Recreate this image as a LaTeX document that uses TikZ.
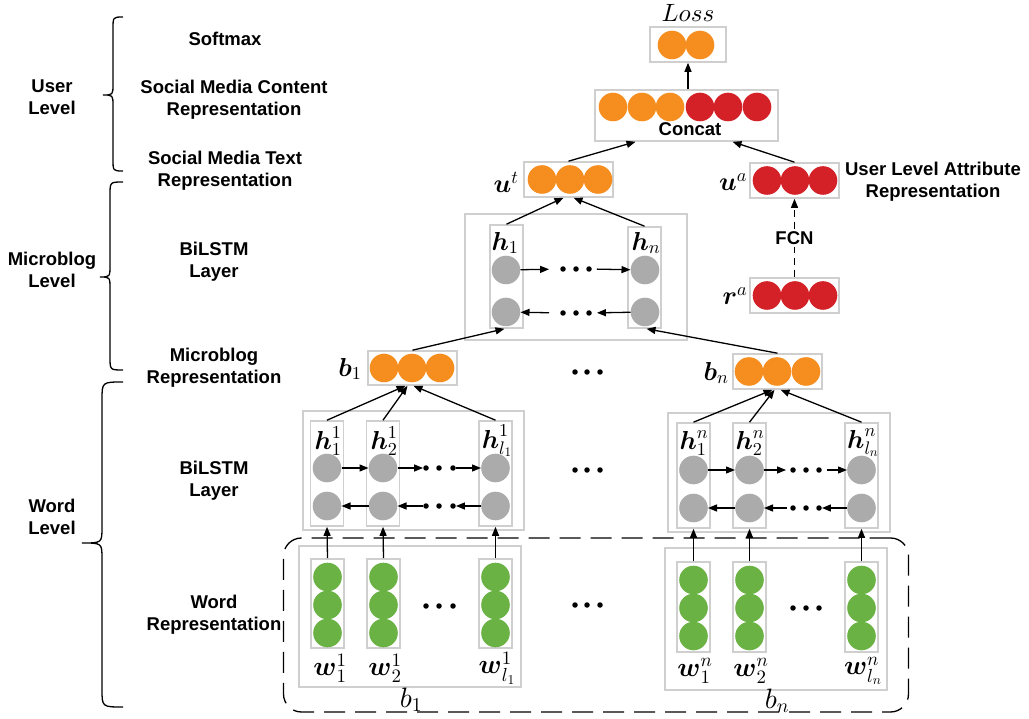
\documentclass[tikz,border=0pt]{standalone}
\usepackage{amsmath}
\usepackage[no-math]{fontspec}
\setmainfont{Liberation Sans}
\usetikzlibrary{arrows.meta}

% scalable Computer Modern math shapes for the large symbol labels
\DeclareFontShape{OML}{cmm}{m}{it}{<->cmmi10}{\skewchar\font=127}
\DeclareFontShape{OML}{cmm}{b}{it}{<->cmmib10}{\skewchar\font=127}
\DeclareFontShape{OT1}{cmr}{m}{n}{<->cmr10}{}
\DeclareFontShape{OT1}{cmr}{bx}{n}{<->cmbx10}{}

\definecolor{cOrange}{HTML}{F68E1F}
\definecolor{cRed}{HTML}{D42027}
\definecolor{cGreen}{HTML}{6BB244}
\definecolor{cGray}{HTML}{ABABAB}
\definecolor{cFrame}{HTML}{CFCFCF}

\newcommand{\lblfont}{\fontsize{18.5}{22}\selectfont\bfseries}
\newcommand{\symfont}{\fontsize{26}{30}\selectfont}
\newcommand{\wsymfont}{\fontsize{27}{31}\selectfont}
\newcommand{\bigsym}{\fontsize{25}{29}\selectfont}
\newcommand{\grpsym}{\fontsize{28}{32}\selectfont}
\newcommand{\bv}[1]{\boldsymbol{#1}}

\begin{document}
\begin{tikzpicture}[x=1pt,y=-1pt,
  frame/.style={draw=cFrame, line width=1.6pt, inner sep=0pt},
  unit/.style={circle, inner sep=0pt, minimum size=28.6pt},
  dotn/.style={circle, fill=black, inner sep=0pt, minimum size=5.5pt},
  lbl/.style={font=\lblfont, align=center, inner sep=0pt},
  sym/.style={font=\symfont, inner sep=0pt},
  wsym/.style={font=\wsymfont, inner sep=0pt},
  arr/.style={-{Triangle[length=9pt,width=7pt]}, line width=1.3pt},
  bracepath/.style={line width=1.3pt},
]
\useasboundingbox (0,0) rectangle (1029,719);

% ---------------- left-hand level braces and captions ----------------
\draw[bracepath] (123,17) .. controls (113,17) .. (113,29) -- (113,84)
  .. controls (113,95) .. (103,95) .. controls (113,95) .. (113,106)
  -- (113,159) .. controls (113,171) .. (123,171);
\draw[bracepath] (123,182) .. controls (110,182) .. (110,195) -- (110,265)
  .. controls (110,277) .. (100,277) .. controls (110,277) .. (110,289)
  -- (110,357) .. controls (110,370) .. (123,370);
\draw[bracepath] (123,382) .. controls (102,382) .. (102,400) -- (102,527)
  .. controls (102,543) .. (82,543) .. controls (102,543) .. (102,559)
  -- (102,689) .. controls (102,707) .. (123,707);

\node[lbl] (lvUser)  at (52,97)  {User\\Level};
\node[lbl] (lvMicro) at (52,270) {Microblog\\Level};
\node[lbl] (lvWord)  at (52,517) {Word\\Level};

\node[lbl] (tSoftmax) at (225,39)  {Softmax};
\node[lbl] (tSMC)     at (234,100) {Social Media Content\\Representation};
\node[lbl] (tSMT)     at (225,171) {Social Media Text\\Representation};
\node[lbl] (tBiM)     at (214,262) {BiLSTM\\Layer};
\node[lbl] (tMR)      at (214,368) {Microblog\\Representation};
\node[lbl] (tBiW)     at (214,481) {BiLSTM\\Layer};
\node[lbl] (tWR)      at (214,615) {Word\\Representation};

% ---------------- user level ----------------
\node[font=\bigsym, inner sep=0pt] (tLoss) at (688,13) {$Loss$};
\node[frame, minimum width=76pt, minimum height=35pt] (loss) at (688,44.5) {};
\foreach \i/\x in {1/672,2/700}
  \node[unit, fill=cOrange] (loss\i) at (\x,45) {};

\node[frame, minimum width=183pt, minimum height=51pt] (concat) at (686.5,115.5) {};
\foreach \i/\x in {1/613,2/642,3/670}
  \node[unit, fill=cOrange] (cc\i) at (\x,107) {};
\foreach \i/\x in {4/700,5/728,6/757}
  \node[unit, fill=cRed] (cc\i) at (\x,107) {};
\node[lbl] (tConcat) at (690,129) {Concat};

\node[frame, minimum width=89pt, minimum height=35pt] (ut) at (568.5,179.5) {};
\foreach \i/\x in {1/542,2/570,3/598}
  \node[unit, fill=cOrange] (ut\i) at (\x,179.5) {};
\node[sym] (tut) at (506,182) {$\bv{u}^{t}$};

\node[frame, minimum width=89pt, minimum height=35pt] (ua) at (794.5,180.5) {};
\foreach \i/\x in {1/767,2/795,3/823}
  \node[unit, fill=cRed] (ua\i) at (\x,180.5) {};
\node[sym] (tua) at (733,182) {$\bv{u}^{a}$};
\node[lbl] (tULA) at (933,182) {User Level Attribute\\Representation};

\node[frame, minimum width=89pt, minimum height=35pt] (ra) at (794.5,295.5) {};
\foreach \i/\x in {1/767,2/795,3/823}
  \node[unit, fill=cRed] (ra\i) at (\x,295.5) {};
\node[sym] (tra) at (735,296) {$\bv{r}^{a}$};

\draw[arr] (concat.north -| loss) -- (loss.south);
\draw[arr] (ut.north) -- ([xshift=-51pt]concat.south);
\draw[arr] (ua.north) -- ([xshift=46pt]concat.south);
\draw[arr, dashed, dash pattern=on 7pt off 5pt] (ra.north) -- node[lbl, fill=white, inner sep=2pt] (tFCN) {FCN} (ua.south);

% ---------------- microblog level ----------------
\node[frame, minimum width=222pt, minimum height=126pt] (mBi) at (576,277) {};
\node[frame, minimum width=33pt, minimum height=103pt] (mc1) at (506.5,276.5) {};
\node[frame, minimum width=33pt, minimum height=101pt] (mcn) at (644.5,277.5) {};
\node[unit, fill=cGray] (mf1) at (506,270) {};
\node[unit, fill=cGray] (mb1) at (506,312) {};
\node[unit, fill=cGray] (mfn) at (645,270) {};
\node[unit, fill=cGray] (mbn) at (645,312) {};
\node[sym] (th1) at (505,243) {$\bv{h}_{1}$};
\node[sym] (thn) at (646,243) {$\bv{h}_{n}$};
\foreach \i/\x in {1/563,2/576,3/589} {
  \node[dotn] (mfd\i) at (\x,269) {};
  \node[dotn] (mbd\i) at (\x,313) {};
}
\draw[arr, shorten >=11pt] (mf1) -- (mfd1);
\draw[arr, shorten <=5pt] (mfd3) -- (mfn);
\draw[arr, shorten >=5pt] (mbn) -- (mbd3);
\draw[arr, shorten <=11pt] (mbd1) -- (mb1);

\draw[arr] (mc1.north) -- ([xshift=-5pt]ut.south);
\draw[arr] (mcn.north) -- ([xshift=5pt]ut.south);

\node[frame, minimum width=89pt, minimum height=34pt] (b1) at (412.5,368) {};
\foreach \i/\x in {1/384,2/412,3/440}
  \node[unit, fill=cOrange] (b1u\i) at (\x,368) {};
\node[sym] (tb1) at (350,369) {$\bv{b}_{1}$};

\node[frame, minimum width=89pt, minimum height=35pt] (bn) at (777.5,371.5) {};
\foreach \i/\x in {1/749,2/777,3/806}
  \node[unit, fill=cOrange] (bnu\i) at (\x,371.5) {};
\node[sym] (tbn) at (716,373) {$\bv{b}_{n}$};

\foreach \i/\x in {1/575,2/587,3/600}
  \node[dotn] (bdot\i) at (\x,372) {};

\draw[arr] (b1.north) -- ([xshift=-2pt]mc1.south);
\draw[arr] (bn.north) -- ([xshift=2pt]mcn.south);

% ---------------- word level: BiLSTM ----------------
% group 1
\node[frame, minimum width=221pt, minimum height=119pt] (wBi1) at (413.5,470.5) {};
\foreach \i/\x in {1/327,2/383,3/495.5} {
  \node[frame, minimum width=33pt, minimum height=105pt] (hc1\i) at (\x,473.5) {};
  \node[unit, fill=cGray] (hf1\i) at (\x,468) {};
  \node[unit, fill=cGray] (hb1\i) at (\x,506) {};
}
\node[sym] (th11) at (328,441) {$\bv{h}^{1}_{1}$};
\node[sym] (th12) at (384,441) {$\bv{h}^{1}_{2}$};
\node[sym] (th13) at (497,441) {$\bv{h}^{1}_{l_1}$};
\foreach \i/\x in {1/426,2/439,3/453} {
  \node[dotn] (f1d\i) at (\x,468) {};
  \node[dotn] (b1d\i) at (\x,506) {};
}
\draw[arr] (hf11) -- (hf12);
\draw[arr] (hf12) -- (f1d1);
\draw[arr] (f1d3) -- (hf13);
\draw[arr] (hb13) -- (b1d3);
\draw[arr] (b1d1) -- (hb12);
\draw[arr] (hb12) -- (hb11);

\draw[arr] (hc11.north) -- ([xshift=-7pt]b1.south);
\draw[arr] (hc12.north) -- ([xshift=-5pt]b1.south);
\draw[arr] (hc13.north) -- ([xshift=1pt]b1.south);

% group n
\node[frame, minimum width=222pt, minimum height=119pt] (wBin) at (779,472.5) {};
\foreach \i/\x in {1/693.5,2/749.5,3/861.5} {
  \node[frame, minimum width=33pt, minimum height=105pt] (hcn\i) at (\x,475.5) {};
  \node[unit, fill=cGray] (hfn\i) at (\x,470) {};
  \node[unit, fill=cGray] (hbn\i) at (\x,508) {};
}
\node[sym] (thn1) at (694,443) {$\bv{h}^{n}_{1}$};
\node[sym] (thn2) at (750,443) {$\bv{h}^{n}_{2}$};
\node[sym] (thn3) at (863,443) {$\bv{h}^{n}_{l_n}$};
\foreach \i/\x in {1/793,2/806,3/819} {
  \node[dotn] (fnd\i) at (\x,470) {};
  \node[dotn] (bnd\i) at (\x,508) {};
}
\draw[arr] (hfn1) -- (hfn2);
\draw[arr, shorten >=4pt] (hfn2) -- (fnd1);
\draw[arr, shorten <=5pt] (fnd3) -- (hfn3);
\draw[arr] (hbn3) -- (bnd3);
\draw[arr, shorten <=3pt] (bnd1) -- (hbn2);
\draw[arr] (hbn2) -- (hbn1);

\draw[arr] (hcn1.north) -- ([xshift=-5pt]bn.south);
\draw[arr] (hcn2.north) -- ([xshift=-3pt]bn.south);
\draw[arr] (hcn3.north) -- ([xshift=3pt]bn.south);

\foreach \i/\x in {1/575,2/587,3/600}
  \node[dotn] (hdot\i) at (\x,470) {};

% ---------------- word level: embeddings ----------------
\node[draw, line width=1.3pt, dash pattern=on 21pt off 10pt, rounded corners=18pt,
      minimum width=625pt, minimum height=174pt, inner sep=0pt] (wordRep) at (596,625) {};

\node[frame, minimum width=222pt, minimum height=141pt] (wr1) at (410,616.5) {};
\foreach \i/\x in {1/327.5,2/383.5,3/495.5} {
  \node[frame, minimum width=33pt, minimum height=89pt] (wc1\i) at (\x,603.5) {};
  \foreach \j/\y in {1/577,2/605,3/633}
    \node[unit, fill=cGreen] (w1\i\j) at (\x,\y) {};
}
\node[wsym] (tw11) at (330,668) {$\bv{w}^{1}_{1}$};
\node[wsym] (tw12) at (385,668) {$\bv{w}^{1}_{2}$};
\node[wsym] (tw13) at (497,668) {$\bv{w}^{1}_{l_1}$};
\foreach \i/\x in {1/426,2/439,3/453}
  \node[dotn] (wd1\i) at (\x,606) {};
\node[font=\grpsym, inner sep=0pt] (tb1w) at (411,700) {$b_1$};

\node[frame, minimum width=222pt, minimum height=142pt] (wrn) at (776,619) {};
\foreach \i/\x in {1/693.5,2/749.5,3/861.5} {
  \node[frame, minimum width=33pt, minimum height=90pt] (wcn\i) at (\x,607) {};
  \foreach \j/\y in {1/580,2/608,3/636}
    \node[unit, fill=cGreen] (wn\i\j) at (\x,\y) {};
}
\node[wsym] (twn1) at (695,671) {$\bv{w}^{n}_{1}$};
\node[wsym] (twn2) at (751,671) {$\bv{w}^{n}_{2}$};
\node[wsym] (twn3) at (863,671) {$\bv{w}^{n}_{l_n}$};
\foreach \i/\x in {1/793,2/806,3/819}
  \node[dotn] (wdn\i) at (\x,608) {};
\node[font=\grpsym, inner sep=0pt] (tbnw) at (777,701) {$b_n$};

\foreach \i/\x in {1/575,2/587,3/600}
  \node[dotn] (wdot\i) at (\x,605) {};

\foreach \i in {1,2,3} {
  \draw[arr] (wc1\i.north) -- (hc1\i.south);
  \draw[arr] (wcn\i.north) -- (hcn\i.south);
}
\end{tikzpicture}
\end{document}
